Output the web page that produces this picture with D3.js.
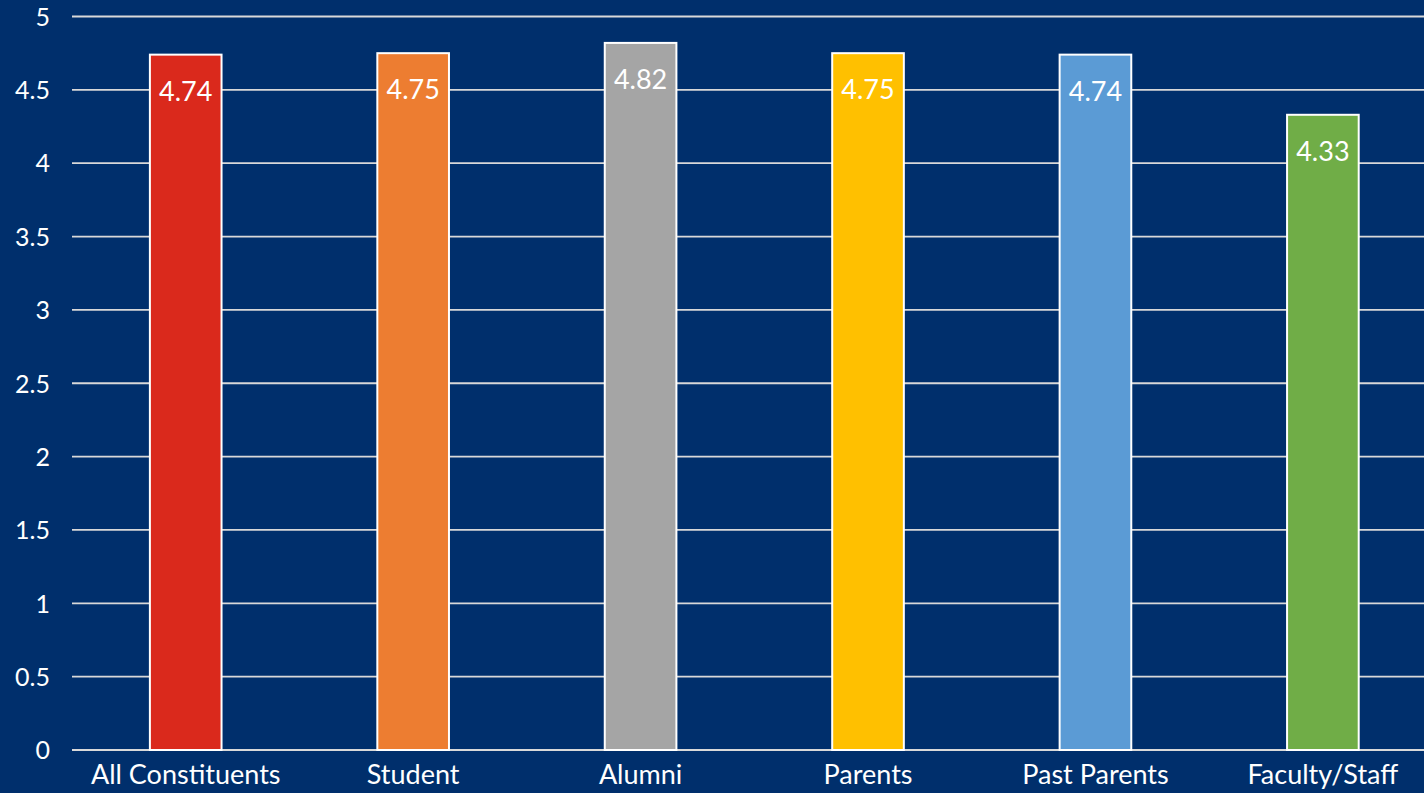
<!DOCTYPE html>
<html><head><meta charset="utf-8">
<script src="https://cdn.jsdelivr.net/npm/d3@7"></script>
<style>
html,body{margin:0;padding:0;background:#002F6C;overflow:hidden}
svg{display:block}
</style></head>
<body>
<svg id="chart" width="1424" height="793"></svg>
<script>
const categories = ["All Constituents","Student","Alumni","Parents","Past Parents","Faculty/Staff"];
const values = [4.74,4.75,4.82,4.75,4.74,4.33];
const colors = ["#DA291C","#ED7D31","#A5A5A5","#FFC000","#5B9BD5","#70AD47"];
const yTicks = [0,0.5,1,1.5,2,2.5,3,3.5,4,4.5,5];
const yTickLabels = ["0","0.5","1","1.5","2","2.5","3","3.5","4","4.5","5"];

const svg = d3.select("#chart");
const font = "Lato, 'Open Sans', sans-serif";
const x = d3.scaleBand().domain(categories).range([72,1436.6]).paddingInner(0.685).paddingOuter(0.3425);
const y = d3.scaleLinear().domain([0,5]).range([750,16.5]);

svg.append("rect").attr("width",1424).attr("height",793).attr("fill","#002F6C");

// gridlines
svg.append("g").selectAll("line").data(yTicks).join("line")
  .attr("x1",72).attr("x2",1424)
  .attr("y1",d=>y(d)).attr("y2",d=>y(d))
  .attr("stroke","#D9D9D9").attr("stroke-width",1.8);

// y axis labels
const yAxis = d3.axisLeft(y).tickValues(yTicks).tickFormat((d,i)=>yTickLabels[i]).tickSize(0).tickPadding(22);
const ga = svg.append("g").attr("transform","translate(72,0)").call(yAxis);
ga.select(".domain").remove();
ga.selectAll("text").attr("fill","#FFFFFF").attr("font-family",font).attr("font-size",25).attr("dy","0.35em");

// bars
svg.append("g").selectAll("rect").data(values).join("rect")
  .attr("x",(d,i)=>x(categories[i]))
  .attr("width",x.bandwidth())
  .attr("y",d=>y(d))
  .attr("height",d=>y(0)-y(d))
  .attr("fill",(d,i)=>colors[i])
  .attr("stroke","#FFFFFF").attr("stroke-width",2);

// value labels
svg.append("g").selectAll("text").data(values).join("text")
  .attr("x",(d,i)=>x(categories[i])+x.bandwidth()/2)
  .attr("y",d=>y(d)+46)
  .attr("text-anchor","middle")
  .attr("fill","#FFFFFF").attr("font-family",font).attr("font-size",27)
  .text(d=>d.toFixed(2));

// x axis labels
const xAxis = d3.axisBottom(x).tickSize(0).tickPadding(15);
const gx = svg.append("g").attr("transform","translate(0,750)").call(xAxis);
gx.select(".domain").remove();
gx.selectAll("text").attr("fill","#FFFFFF").attr("font-family",font).attr("font-size",27).attr("dy","0.71em");
</script>
</body></html>
